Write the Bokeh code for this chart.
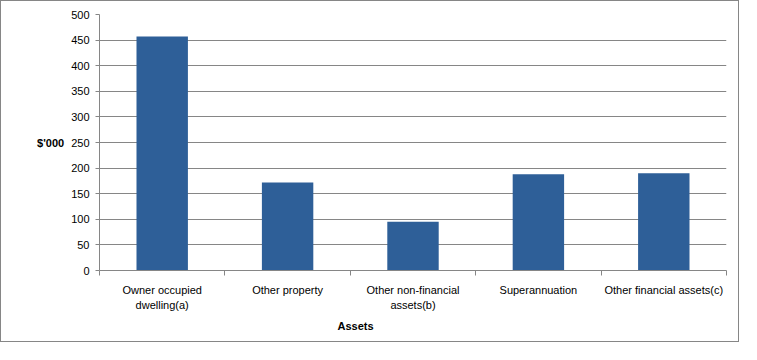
from bokeh.plotting import figure
from bokeh.models import Range1d, FixedTicker, Title
from bokeh.embed import file_html
from bokeh.resources import INLINE

categories = ["Owner occupied\ndwelling(a)", "Other property", "Other non-financial\nassets(b)",
              "Superannuation", "Other financial assets(c)"]
values = [457, 172, 95, 188, 190]
y_ticks = [0, 50, 100, 150, 200, 250, 300, 350, 400, 450, 500]

FONT = "Liberation Sans"
GRAY = "#868686"
BAR = "#2E5F98"

n = len(categories)
centers = [i + 0.5 for i in range(n)]
bounds = [i for i in range(n + 1)]

p = figure(width=739, height=342, output_backend="svg", toolbar_location=None,
           x_range=Range1d(0, n), y_range=Range1d(0, 500),
           min_border_left=98, min_border_right=14, min_border_top=13, min_border_bottom=73)
p.outline_line_color = None
p.background_fill_color = "white"
p.border_fill_color = "white"

p.vbar(x=centers, top=values, width=0.41, color=BAR, line_color=None)

# x axis
xa = p.xaxis[0]
xa.ticker = FixedTicker(ticks=centers, minor_ticks=bounds)
xa.major_label_overrides = {c: lab for c, lab in zip(centers, categories)}
xa.major_tick_line_color = None
xa.major_tick_out = 5
xa.major_tick_in = 0
xa.minor_tick_out = 5
xa.minor_tick_in = 0
xa.minor_tick_line_color = GRAY
xa.axis_line_color = GRAY
xa.major_label_text_font = FONT
xa.major_label_text_font_size = "11px"
xa.major_label_text_color = "black"
xa.major_label_standoff = 8
xa.major_label_text_line_height = 1.25
p.xgrid.grid_line_color = None

# y axis
ya = p.yaxis[0]
ya.ticker = FixedTicker(ticks=y_ticks)
ya.minor_tick_line_color = None
ya.major_tick_out = 4
ya.major_tick_in = 0
ya.major_tick_line_color = GRAY
ya.axis_line_color = GRAY
ya.major_label_text_font = FONT
ya.major_label_text_font_size = "11px"
ya.major_label_text_color = "black"
ya.major_label_standoff = 6
ya.axis_label = "$'000"
ya.axis_label_orientation = "horizontal"
ya.axis_label_text_font = FONT
ya.axis_label_text_font_size = "11px"
ya.axis_label_text_font_style = "bold"
ya.axis_label_text_color = "black"
ya.axis_label_standoff = 4
p.ygrid.ticker = FixedTicker(ticks=y_ticks)
p.ygrid.grid_line_color = GRAY
p.ygrid.grid_line_width = 1

xt = Title(text="Assets", align="left", offset=238, text_font=FONT, text_font_size="11px",
           text_font_style="bold", text_color="black", standoff=8)
p.add_layout(xt, "below")

p.styles = {"border": "1px solid #868686"}

open("out.html", "w").write(file_html(p, INLINE))
